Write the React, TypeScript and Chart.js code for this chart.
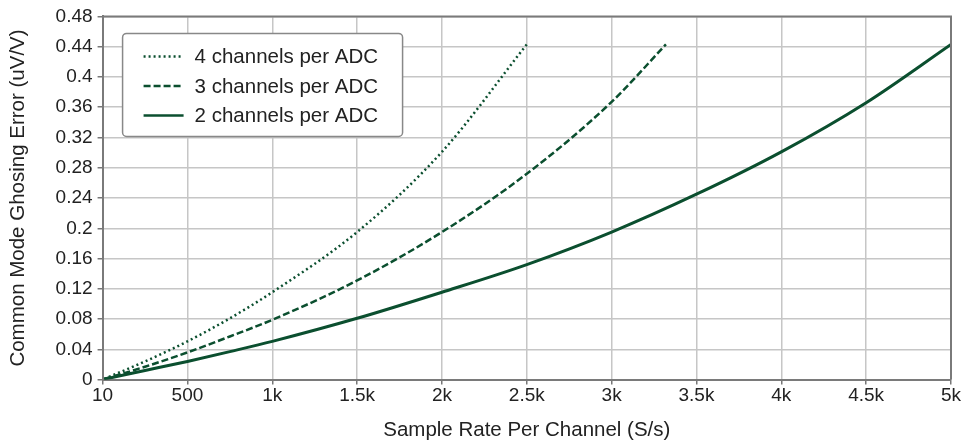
import React, { useEffect, useRef } from "react";
import { Chart, registerables } from "chart.js";

Chart.register(...registerables);

const xTicks = [0, 500, 1000, 1500, 2000, 2500, 3000, 3500, 4000, 4500, 5000];
const xTickLabels = ["10", "500", "1k", "1.5k", "2k", "2.5k", "3k", "3.5k", "4k", "4.5k", "5k"];

const x2ch = [10, 250, 500, 750, 1000, 1500, 2000, 2500, 3000, 3500, 4000, 4500, 5000];
const y2ch = [0.0005, 0.012, 0.024, 0.037, 0.0505, 0.081, 0.1155, 0.152, 0.195, 0.245, 0.301, 0.366, 0.443];

const x3ch = [10, 250, 500, 750, 1000, 1500, 2000, 2500, 3000, 3320];
const y3ch = [0.0007, 0.017, 0.036, 0.057, 0.079, 0.131, 0.195, 0.272, 0.367, 0.443];

const x4ch = [10, 250, 500, 750, 1000, 1500, 2000, 2500];
const y4ch = [0.001, 0.024, 0.0505, 0.081, 0.1155, 0.195, 0.301, 0.443];

const seriesNames = ["4 channels per ADC", "3 channels per ADC", "2 channels per ADC"];

const yMin = 0;
const yMax = 0.48;
const yStep = 0.04;

const GREEN = "#0b4f2f";
const FONT = "'Liberation Sans', Arial, sans-serif";
const TICK_SIZE = 19;
const TEXT_SIZE = 20.5;

function toPts(xs: number[], ys: number[]) {
  return xs.map((x, i) => ({ x, y: ys[i] }));
}

const dashes: number[][] = [[2, 3], [7, 3], []];

const legendPlugin = {
  id: "insideLegend",
  afterDraw(chart: any) {
    const ctx = chart.ctx;
    const ca = chart.chartArea;
    const x0 = ca.left + 20;
    const y0 = ca.top + 17;
    const w = 280;
    const h = 103;
    ctx.save();
    ctx.fillStyle = "#ffffff";
    ctx.strokeStyle = "#888888";
    ctx.lineWidth = 1.5;
    ctx.beginPath();
    if ((ctx as any).roundRect) (ctx as any).roundRect(x0, y0, w, h, 4);
    else ctx.rect(x0, y0, w, h);
    ctx.fill();
    ctx.stroke();
    ctx.font = TEXT_SIZE + "px " + FONT;
    ctx.textBaseline = "middle";
    ctx.fillStyle = "#222222";
    seriesNames.forEach((name, i) => {
      const cy = y0 + 23 + i * 29.5;
      ctx.beginPath();
      ctx.strokeStyle = GREEN;
      ctx.lineWidth = 2.5;
      ctx.setLineDash(dashes[i]);
      ctx.moveTo(x0 + 21, cy);
      ctx.lineTo(x0 + 61, cy);
      ctx.stroke();
      ctx.setLineDash([]);
      ctx.fillText(name, x0 + 72, cy + 1);
    });
    ctx.restore();
  },
};

export default function App() {
  const ref = useRef<HTMLCanvasElement>(null);
  useEffect(() => {
    if (!ref.current) return;
    const chart = new Chart(ref.current, {
      type: "scatter",
      data: {
        datasets: [
          {
            label: seriesNames[0],
            data: toPts(x4ch, y4ch),
            showLine: true,
            borderColor: GREEN,
            borderWidth: 2.5,
            borderDash: dashes[0],
            pointRadius: 0,
            cubicInterpolationMode: "monotone",
          },
          {
            label: seriesNames[1],
            data: toPts(x3ch, y3ch),
            showLine: true,
            borderColor: GREEN,
            borderWidth: 2.5,
            borderDash: dashes[1],
            pointRadius: 0,
            cubicInterpolationMode: "monotone",
          },
          {
            label: seriesNames[2],
            data: toPts(x2ch, y2ch),
            showLine: true,
            borderColor: GREEN,
            borderWidth: 3,
            pointRadius: 0,
            cubicInterpolationMode: "monotone",
          },
        ],
      },
      options: {
        animation: false,
        responsive: false,
        layout: { padding: { top: 12, right: 18, bottom: 0, left: 6 } },
        plugins: {
          legend: { display: false },
          tooltip: { enabled: false },
        },
        scales: {
          x: {
            type: "linear",
            min: 0,
            max: 5000,
            afterBuildTicks: (axis: any) => {
              axis.ticks = xTicks.map((v) => ({ value: v }));
            },
            ticks: {
              color: "#222",
              font: { family: FONT, size: TICK_SIZE },
              padding: 0,
              maxRotation: 0,
              autoSkip: false,
              callback: (v: any) => {
                const i = xTicks.indexOf(Number(v));
                return i >= 0 ? xTickLabels[i] : "";
              },
            },
            grid: { color: "#c6c6c6", lineWidth: 1.5, tickLength: 5, tickColor: "#777" },
            border: { color: "#7a7a7a", width: 2 },
            title: {
              display: true,
              text: "Sample Rate Per Channel (S/s)",
              color: "#222",
              font: { family: FONT, size: TEXT_SIZE },
              padding: { top: 11, bottom: 0 },
            },
          },
          y: {
            type: "linear",
            min: yMin,
            max: yMax,
            ticks: {
              stepSize: yStep,
              color: "#222",
              font: { family: FONT, size: TICK_SIZE },
              padding: 5,
              callback: (v: any) => String(parseFloat(Number(v).toFixed(2))),
            },
            grid: { color: "#c6c6c6", lineWidth: 1.5, tickLength: 5, tickColor: "#777" },
            border: { color: "#7a7a7a", width: 2 },
            title: {
              display: true,
              text: "Common Mode Ghosing Error (uV/V)",
              color: "#222",
              font: { family: FONT, size: TEXT_SIZE },
              padding: { top: 0, bottom: 20 },
            },
          },
        },
      },
      plugins: [
        legendPlugin,
        {
          id: "frame",
          afterDatasetsDraw(chart: any) {
            const { ctx, chartArea: ca } = chart;
            ctx.save();
            ctx.strokeStyle = "#7a7a7a";
            ctx.lineWidth = 2;
            ctx.beginPath();
            ctx.moveTo(ca.left, ca.top);
            ctx.lineTo(ca.right, ca.top);
            ctx.lineTo(ca.right, ca.bottom);
            ctx.stroke();
            ctx.restore();
          },
        },
      ],
    } as any);
    return () => chart.destroy();
  }, []);
  return (
    <div style={{ position: "fixed", left: 0, top: 0, width: 969, height: 443, background: "#fff" }}>
      <canvas ref={ref} width={969} height={443} style={{ display: "block" }} />
    </div>
  );
}
